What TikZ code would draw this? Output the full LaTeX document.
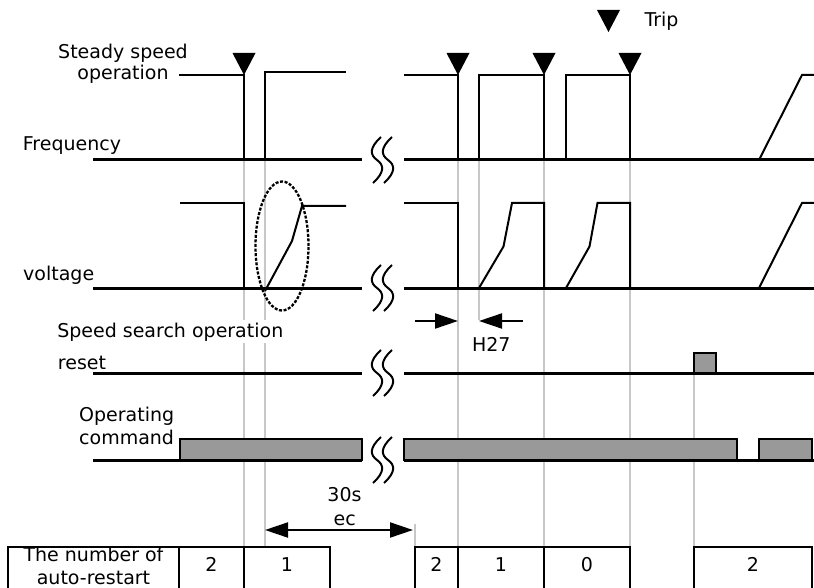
\documentclass[tikz,border=0pt]{standalone}
\usepackage{fontspec}
\setmainfont{DejaVu Sans}
\usetikzlibrary{arrows.meta}
\definecolor{barfill}{RGB}{153,153,153}
\definecolor{guide}{RGB}{200,200,200}
\tikzset{
 lbl/.style={font=\fontsize{19}{23}\selectfont, inner sep=0pt},
 axisline/.style={line width=3pt},
 sig/.style={line width=2pt, line join=miter},
 guideline/.style={draw=guide, line width=1.5pt},
 bar/.style={fill=barfill, draw=black, line width=2pt},
 cell/.style={line width=2pt},
 bigtip/.tip={Triangle[length=23pt,width=15pt]},
 bigarrow/.style={line width=2pt, -bigtip},
 brk/.pic={\draw[line width=2pt] (4,-23) .. controls (-8,-12) and (-7,-5) .. (0,0) .. controls (7,5) and (8,12) .. (-4,23);},
 tripmark/.pic={\fill (-11.5,-22) -- (11.5,-22) -- (0,0) -- cycle;}
}
\begin{document}
\begin{tikzpicture}[x=1pt,y=-1pt]
\useasboundingbox (0,0) rectangle (814,588);
\clip (0,0) rectangle (814,588);
% event coordinates
\coordinate (e1) at (244,160);
\coordinate (e2) at (265,160);
\coordinate (e3) at (458,160);
\coordinate (e4) at (479,160);
\coordinate (e5) at (544,160);
\coordinate (e6) at (630,160);
\coordinate (e7) at (694,373);
% guide lines
\draw[guideline] (e1) -- (244,546);
\draw[guideline] (e2) -- (265,546);
\draw[guideline] (e3) -- (458,546);
\draw[guideline] (e4) -- (479,320);
\draw[guideline] (e5) -- (544,546);
\draw[guideline] (e6) -- (630,546);
\draw[guideline] (e7) -- (694,546);
\draw[guideline] (415,524) -- (415,546);

% Frequency
\draw[axisline] (93,160) -- (362,160);
\draw[axisline] (404,160) -- (814,160);
\draw[sig] (179,75) -- (244,75) -- (244,160);
\draw[sig] (265,160) -- (265,72) -- (346,72);
\draw[sig] (404,75) -- (458,75) -- (458,160);
\draw[sig] (479,160) -- (479,75) -- (544,75) -- (544,160);
\draw[sig] (566,160) -- (566,75) -- (630,75) -- (630,160);
\draw[sig] (759,160) -- (802,75) -- (814,75);
\pic at (244,75) {tripmark};
\pic at (458,75) {tripmark};
\pic at (544,75) {tripmark};
\pic at (630,75) {tripmark};
\pic at (608.5,32) {tripmark};

% Voltage
\draw[axisline] (93,288) -- (362,288);
\draw[axisline] (404,288) -- (814,288);
\draw[sig] (180,203) -- (244,203) -- (244,288);
\draw[sig] (265,291) -- (292,241) -- (302,206) -- (346,206);
\draw[sig] (404,203) -- (458,203) -- (458,288);
\draw[sig] (479,288) -- (503.5,246.5) -- (512,203) -- (544,203) -- (544,288);
\draw[sig] (566,288) -- (589.5,246.5) -- (597.5,203) -- (630,203) -- (630,288);
\draw[sig] (759,288) -- (802,203) -- (814,203);
\draw[line width=2.3pt, dash pattern=on 3pt off 1.6pt] (282,246) ellipse [x radius=26.5pt, y radius=64.5pt];

% H27
\draw[bigarrow] (415,321) -- (458,321);
\draw[bigarrow] (523,321) -- (479,321);

% Reset
\draw[axisline] (93,373) -- (362,373);
\draw[axisline] (404,373) -- (814,373);
\draw[bar] (694,373) rectangle (716,353);

% Operating command
\draw[axisline] (93,460) -- (362,460);
\draw[axisline] (404,460) -- (814,460);
\draw[bar] (180,460) rectangle (362,438.5);
\draw[bar] (404,460) rectangle (737,438.5);
\draw[bar] (759,460) rectangle (812,438.5);

% breaks
\foreach \yy in {160,288,373,460}{
  \pic at (377,\yy) {brk};
  \pic at (388,\yy) {brk};
}

% 30 sec
\draw[line width=2pt, bigtip-bigtip] (265,530) -- (413,530);

% table
\draw[cell] (8,600) -- (8,546.5) -- (330,546.5) -- (330,600);
\draw[cell] (179,546.5) -- (179,600);
\draw[cell] (244,546.5) -- (244,600);
\draw[cell] (415,600) -- (415,546.5) -- (630,546.5) -- (630,600);
\draw[cell] (458,546.5) -- (458,600);
\draw[cell] (544,546.5) -- (544,600);
\draw[cell] (694,600) -- (694,546.5) -- (812,546.5) -- (812,600);

% labels
\node[lbl, anchor=base] (steady) at (123,58.5) {Steady speed};
\node[lbl, anchor=base] (oper) at (123,80) {operation};
\node[lbl, anchor=base] (freq) at (72,150.7) {Frequency};
\node[lbl, anchor=base] (volt) at (58.7,280) {voltage};
\node[lbl, anchor=base, fill=white, inner sep=2.5pt] (ssearch) at (170.3,337) {Speed search operation};
\node[lbl, anchor=base] (reset) at (82,369.3) {reset};
\node[lbl, anchor=base west] (opA) at (79,421.7) {Operating};
\node[lbl, anchor=base west] (opB) at (79,444) {command};
\node[lbl, anchor=base] (trip) at (661.5,26.7) {Trip};
\node[lbl, anchor=base] (h27) at (491.3,351.7) {H27};
\node[lbl, anchor=base] (t30) at (344.5,501.7) {30s};
\node[lbl, anchor=base] (tec) at (344.7,525) {ec};
\node[lbl, anchor=base] (tn1) at (93.5,561.7) {The number of};
\node[lbl, anchor=base] (tn2) at (93.5,584) {auto-restart};
\node[lbl, anchor=base] (c1) at (211.5,571.7) {2};
\node[lbl, anchor=base] (c2) at (287,571.7) {1};
\node[lbl, anchor=base] (c3) at (436.5,571.7) {2};
\node[lbl, anchor=base] (c4) at (501,571.7) {1};
\node[lbl, anchor=base] (c5) at (587,571.7) {0};
\node[lbl, anchor=base] (c6) at (753,571.7) {2};
\end{tikzpicture}
\end{document}
